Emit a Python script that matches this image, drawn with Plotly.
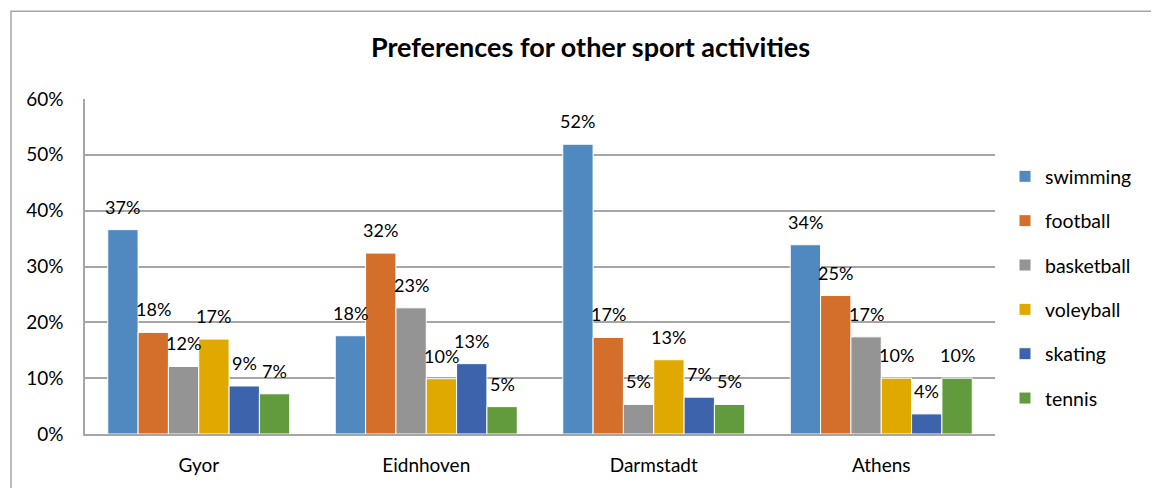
import plotly.graph_objects as go

cities = ["Gyor", "Eidnhoven", "Darmstadt", "Athens"]
sports = ["swimming", "football", "basketball", "voleyball", "skating", "tennis"]

swimming = [0.366, 0.176, 0.519, 0.339]
football = [0.182, 0.324, 0.173, 0.248]
basketball = [0.121, 0.226, 0.053, 0.174]
voleyball = [0.170, 0.099, 0.133, 0.100]
skating = [0.086, 0.126, 0.066, 0.036]
tennis = [0.072, 0.049, 0.053, 0.100]

y_ticks = [0, 0.1, 0.2, 0.3, 0.4, 0.5, 0.6]

series = [swimming, football, basketball, voleyball, skating, tennis]
colors = ["#4F89BF", "#D36F2B", "#949494", "#E0A900", "#3C63AC", "#629B3E"]

FONT = "Lato, Calibri, sans-serif"
# page body has an 8px margin, so the figure is 8px smaller than the window
W, H = 1151, 480
ML, MR, MT, MB = 77, 164, 91, 49
BARGAP = 0.2

fig = go.Figure()
for name, vals, col in zip(sports, series, colors):
    fig.add_trace(go.Bar(
        name=name, x=cities, y=vals, marker_color=col,
        marker_line=dict(color="white", width=1),
        legendgroup=name,
    ))

# data labels above each bar
plot_w = W - ML - MR
plot_h = H - MT - MB
bar_w = plot_w / len(cities) * (1 - BARGAP) / len(series)
for i, vals in enumerate(series):
    for c, v in zip(cities, vals):
        fig.add_annotation(
            x=c, y=v, text=f"{v:.0%}", showarrow=False,
            xshift=(i - (len(series) - 1) / 2) * bar_w, yshift=10,
            yanchor="bottom", font=dict(family=FONT, size=18, color="black"),
        )

# outer chart border (runs off the right and bottom edges)
fig.add_shape(
    type="rect", xref="paper", yref="paper",
    x0=(3 - ML) / plot_w, x1=(W + 10 - ML) / plot_w,
    y0=-(MB + 10) / plot_h, y1=(H - MB - 2) / plot_h,
    line=dict(color="#A6A6A6", width=1.5), fillcolor="rgba(0,0,0,0)", layer="below",
)

fig.update_layout(
    width=W, height=H,
    margin=dict(l=ML, r=MR, t=MT, b=MB),
    paper_bgcolor="white", plot_bgcolor="white",
    barmode="group", bargap=BARGAP, bargroupgap=0,
    title=dict(text="<b>Preferences for other sport activities</b>",
               x=582.5 / W, xanchor="center", y=1 - 40 / H, yanchor="middle",
               font=dict(family=FONT, size=27, color="black")),
    font=dict(family=FONT, size=19, color="black"),
    legend=dict(x=(997 - ML) / plot_w, xanchor="left", y=(H - MB - 150) / plot_h,
                yanchor="top", traceorder="grouped", tracegroupgap=16,
                font=dict(family=FONT, size=19.5, color="black")),
    xaxis=dict(showline=True, linecolor="#A6A6A6", linewidth=1.5, ticks="",
               ticklabelstandoff=13, tickfont=dict(size=19)),
    yaxis=dict(range=[0, 0.6], tickvals=y_ticks, tickformat=".0%",
               showgrid=True, gridcolor="#A6A6A6", gridwidth=1.5,
               showline=True, linecolor="#A6A6A6", linewidth=1.5,
               zeroline=False, ticklabelstandoff=16, tickfont=dict(size=19)),
)

fig.write_html("out.html")
